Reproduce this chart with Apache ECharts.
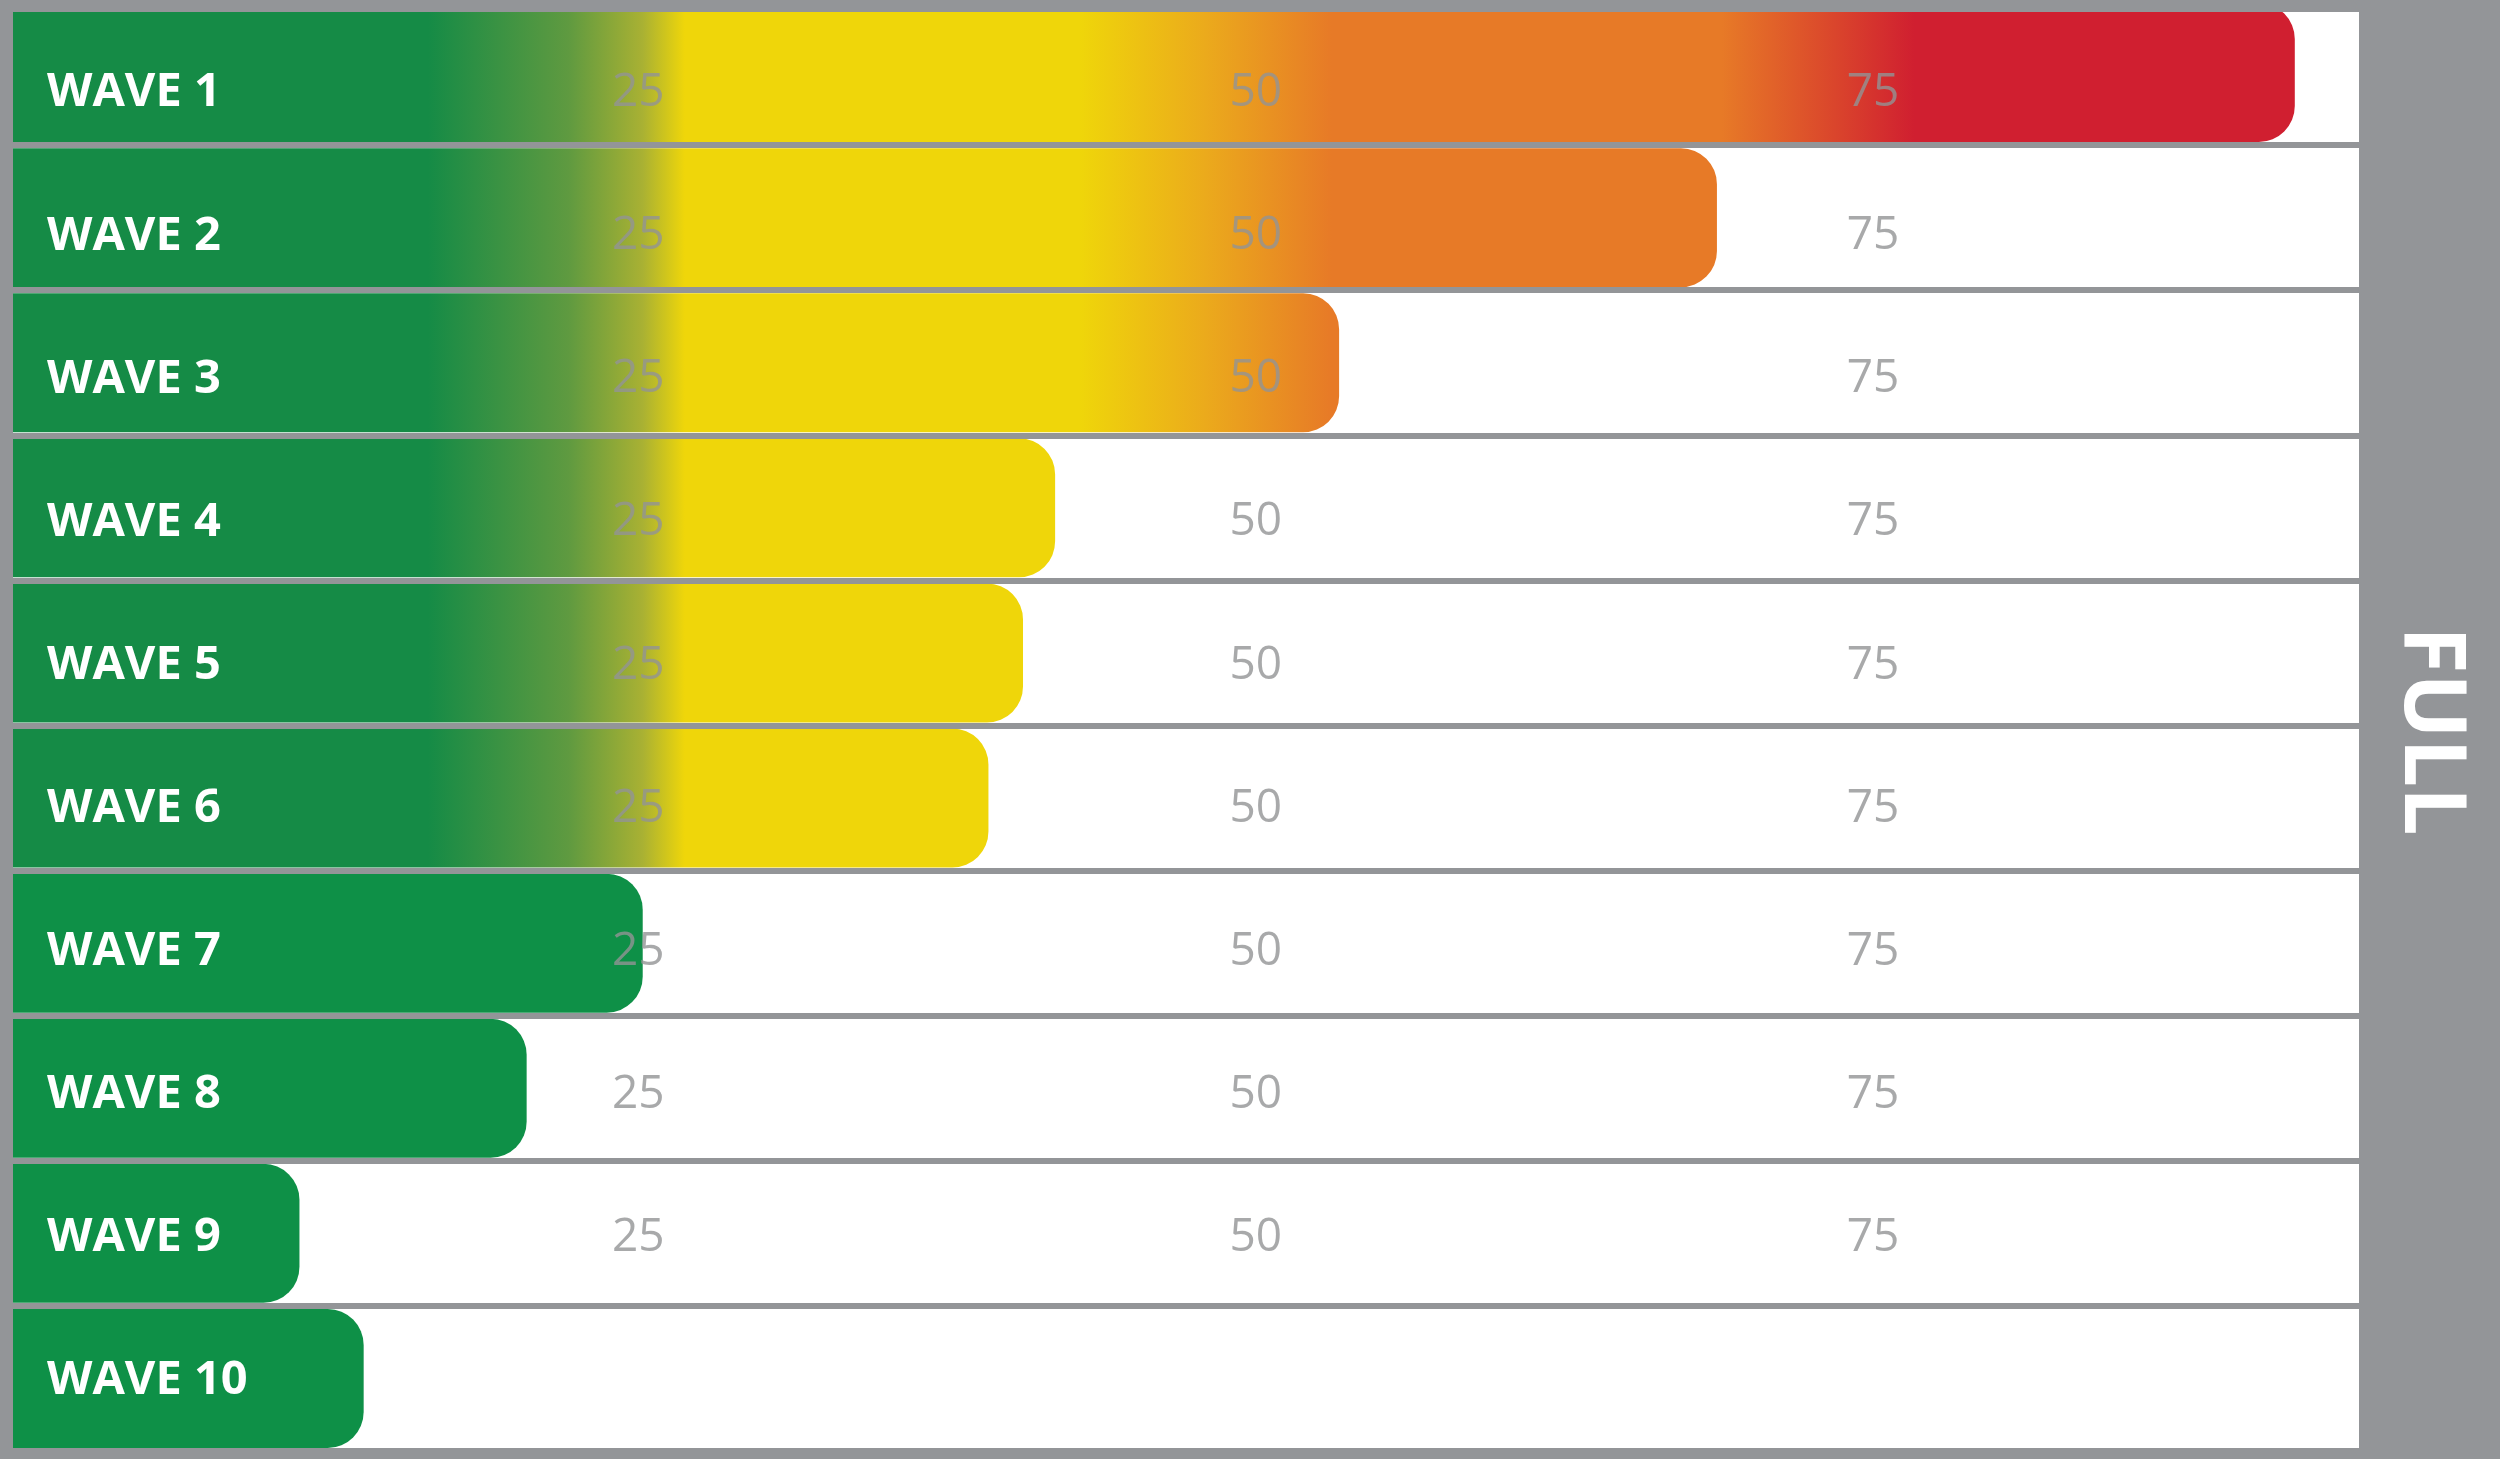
<!DOCTYPE html>
<html>
<head>
<meta charset="utf-8">
<script src="https://cdn.jsdelivr.net/npm/echarts@6/dist/echarts.min.js"></script>
<style>
  html, body { margin: 0; padding: 0; background: #939598; }
  #c { width: 2500px; height: 1459px; }
</style>
</head>
<body>
<div id="c"></div>
<script>
// ---- data ----
const categories = ['WAVE 1', 'WAVE 2', 'WAVE 3', 'WAVE 4', 'WAVE 5', 'WAVE 6', 'WAVE 7', 'WAVE 8', 'WAVE 9', 'WAVE 10'];
const values = [92.4, 69.0, 53.7, 42.2, 40.9, 39.5, 25.5, 20.8, 11.6, 14.2];
const tickValues = [25, 50, 75];
const tickRows = ['WAVE 1', 'WAVE 2', 'WAVE 3', 'WAVE 4', 'WAVE 5', 'WAVE 6', 'WAVE 7', 'WAVE 8', 'WAVE 9'];
const panelLabel = 'FULL';
const axisMax = 95;
// colour zones along the value scale
const zoneValues = [0, 16.8, 22.5, 25.5, 27.2, 43.2, 48.3, 53.4, 69.2, 73.1, 77.0, 95];
const zoneColours = ['#158b46', '#158b46', '#5f9a40', '#a9b133', '#efd60a', '#efd60a', '#ebaa1c', '#e77a27', '#e77a27', '#dc4d2b', '#d01f30', '#d01f30'];
const solidGreenBelow = 30;

const GREY = '#939598';
const chart = echarts.init(document.getElementById('c'), null, { renderer: 'canvas' });

function buildOption(gradient) {
  return {
    animation: false,
    backgroundColor: GREY,
    grid: [
      { left: 13, right: 141, top: 0, bottom: 8, show: true, backgroundColor: '#ffffff', borderWidth: 0 },
      { left: 13, right: 141, top: 21.5, bottom: 6.5, show: false }
    ],
    xAxis: [
      { gridIndex: 0, type: 'value', min: 0, max: axisMax, show: false },
      { gridIndex: 1, type: 'value', min: 0, max: axisMax, show: false }
    ],
    yAxis: [
      {
        gridIndex: 0, type: 'category', data: categories, inverse: true, z: 5,
        axisLine: { show: false }, axisTick: { show: false }, axisLabel: { show: false },
        splitLine: { show: true, interval: 0, lineStyle: { color: GREY, width: 6 } }
      },
      {
        gridIndex: 1, type: 'category', data: categories, inverse: true, z: 10,
        axisLine: { show: false }, axisTick: { show: false }, splitLine: { show: false },
        axisLabel: {
          show: true, inside: true, interval: 0, margin: 34,
          color: '#ffffff', fontWeight: 'bold', fontSize: 47, fontFamily: '"Open Sans"'
        }
      }
    ],
    series: [
      {
        type: 'bar', xAxisIndex: 0, yAxisIndex: 0, barWidth: 139, z: 2,
        itemStyle: { borderRadius: [0, 36, 36, 0] },
        data: values.map(v => ({
          value: v,
          itemStyle: { color: (v < solidGreenBelow || !gradient) ? '#0e9047' : gradient }
        }))
      },
      {
        type: 'scatter', xAxisIndex: 1, yAxisIndex: 1, z: 4, silent: true,
        symbolSize: 1, itemStyle: { color: 'rgba(0,0,0,0)' },
        label: {
          show: true, position: 'inside', offset: [8, 0],
          formatter: p => String(p.value[0]),
          color: '#929395', fontSize: 46, fontWeight: 500, fontFamily: '"Open Sans"'
        },
        data: tickRows.flatMap(c => tickValues.map(t => [t, c]))
      }
    ],
    graphic: [
      { type: 'rect', left: 0, top: 0, z: 100, shape: { width: 2359, height: 12 }, style: { fill: GREY } },
      {
        type: 'text', x: 2429, y: 731, rotation: -Math.PI / 2, z: 100,
        style: { text: panelLabel, fill: '#ffffff', font: 'bold 86px "Open Sans"', align: 'center', verticalAlign: 'middle' }
      }
    ]
  };
}

chart.setOption(buildOption(null));
const px0 = chart.convertToPixel({ xAxisIndex: 0 }, 0);
const px1 = chart.convertToPixel({ xAxisIndex: 0 }, axisMax);
const stops = zoneValues.map((v, i) => ({ offset: v / axisMax, color: zoneColours[i] }));
const gradient = new echarts.graphic.LinearGradient(px0, 0, px1, 0, stops, true);
chart.setOption(buildOption(gradient), true);
</script>
</body>
</html>
